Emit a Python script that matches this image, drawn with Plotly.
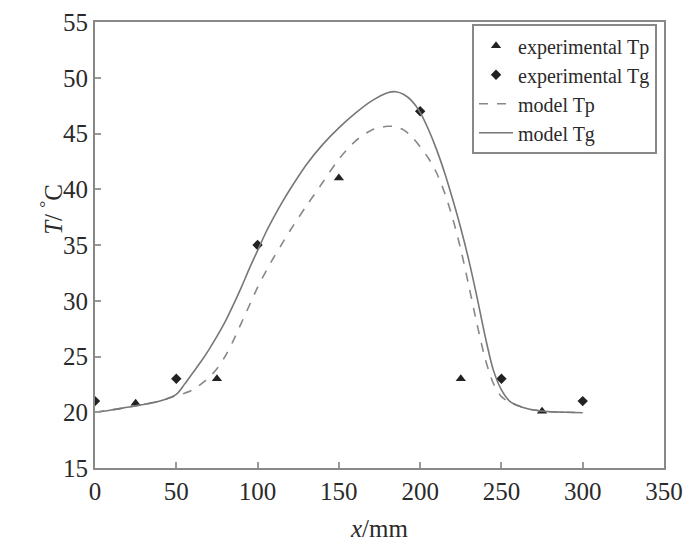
import plotly.graph_objects as go

# Experimental data
exp_tp_x = [25, 75, 150, 225, 275]
exp_tp_y = [20.8, 23.0, 41.0, 23.0, 20.1]
exp_tg_x = [0, 50, 100, 200, 250, 300]
exp_tg_y = [21.0, 23.0, 35.0, 47.0, 23.0, 21.0]

# Model curves
model_x = [0, 10, 20, 30, 40, 50, 55, 60, 65, 70, 75, 80, 85, 90, 95, 100, 105, 110, 115,
           120, 130, 140, 150, 160, 170, 180, 185, 190, 195, 200, 205, 210, 215, 220, 225,
           230, 235, 240, 245, 250, 255, 260, 265, 270, 280, 290, 300]
model_tg = [20.0, 20.2, 20.45, 20.7, 21.0, 21.6, 22.5, 23.5, 24.5, 25.6, 26.8, 28.1, 29.6,
            31.2, 32.9, 34.5, 36.1, 37.5, 38.8, 40.0, 42.2, 44.0, 45.5, 46.8, 47.9, 48.65,
            48.75, 48.5, 47.9, 46.9, 45.4, 43.6, 41.5, 39.1, 36.5, 33.6, 30.3, 26.8, 23.8,
            22.0, 21.0, 20.6, 20.35, 20.2, 20.05, 20.0, 19.95]
model_tp = [20.0, 20.2, 20.45, 20.7, 21.0, 21.5, 21.7, 22.0, 22.5, 23.1, 23.9, 25.0, 26.4,
            28.0, 29.6, 31.2, 32.6, 33.9, 35.1, 36.3, 38.5, 40.6, 42.7, 44.3, 45.3, 45.65,
            45.6, 45.3, 44.7, 43.8, 42.8, 41.5, 39.7, 37.4, 34.6, 31.3, 27.9, 24.8, 22.6,
            21.4, 20.9, 20.6, 20.35, 20.2, 20.05, 20.0, 19.95]

x_ticks = [0, 50, 100, 150, 200, 250, 300, 350]
y_ticks = [15, 20, 25, 30, 35, 40, 45, 50, 55]

FONT = "Liberation Serif"
TXT = "#2a2a2a"

fig = go.Figure()
fig.add_trace(go.Scatter(x=exp_tp_x, y=exp_tp_y, mode="markers", name="experimental Tp",
                         marker=dict(symbol="triangle-up", size=9, color="#222222")))
fig.add_trace(go.Scatter(x=exp_tg_x, y=exp_tg_y, mode="markers", name="experimental Tg",
                         marker=dict(symbol="diamond", size=8, color="#222222")))
fig.add_trace(go.Scatter(x=model_x, y=model_tp, mode="lines", name="model Tp",
                         line=dict(color="#888888", width=1.6, dash="dash",
                                   shape="spline", smoothing=0.8)))
fig.add_trace(go.Scatter(x=model_x, y=model_tg, mode="lines", name="model Tg",
                         line=dict(color="#777777", width=1.6,
                                   shape="spline", smoothing=0.8)))

axis_common = dict(showgrid=False, zeroline=False, showline=True, linecolor="#888888",
                   linewidth=2, mirror=True, ticks="inside", ticklen=6, tickcolor="#999999",
                   tickwidth=1.5, tickfont=dict(family=FONT, size=25, color=TXT),
                   automargin=False)

fig.update_xaxes(range=[0, 350], tickvals=x_ticks, ticklabeloverflow="allow", **axis_common)
fig.update_yaxes(range=[15, 55], tickvals=y_ticks, **axis_common)

fig.add_annotation(text="<i>x</i>/mm", xref="paper", yref="paper",
                   x=0.5, y=-0.135, xanchor="center", yanchor="middle", showarrow=False,
                   font=dict(family=FONT, size=25, color=TXT))
fig.add_annotation(text="<i>T</i>/ <sup>°</sup>C", textangle=-90, xref="paper", yref="paper",
                   x=-0.108, y=0.58, showarrow=False,
                   font=dict(family=FONT, size=25, color=TXT))

fig.update_layout(
    width=687, height=546,
    margin=dict(l=95, r=23, t=22, b=78),
    plot_bgcolor="white", paper_bgcolor="white",
    legend=dict(x=0.6626, y=0.995, xanchor="left", yanchor="top",
                bordercolor="#888888", borderwidth=2, bgcolor="white",
                font=dict(family=FONT, size=20, color=TXT),
                itemwidth=34, tracegroupgap=0),
)

fig.write_html("out.html")
